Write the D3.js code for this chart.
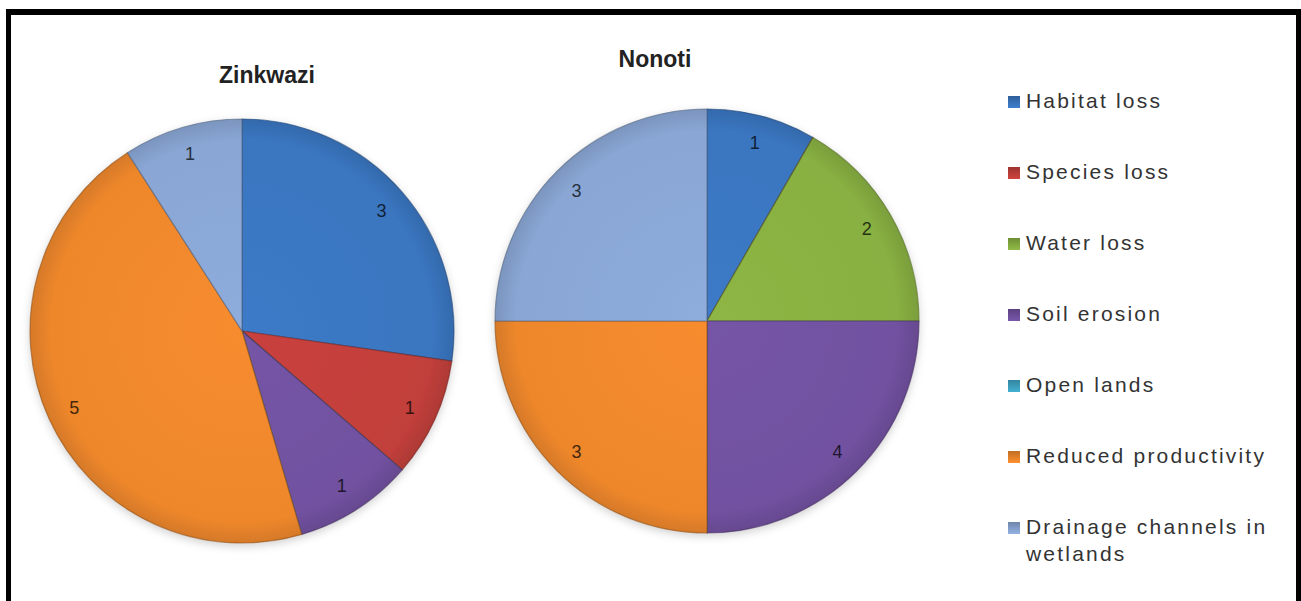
<!DOCTYPE html>
<html>
<head>
<meta charset="utf-8">
<script src="https://cdn.jsdelivr.net/npm/d3@7"></script>
<style>
  html, body { margin: 0; padding: 0; background: #fff; }
  svg { display: block; }
</style>
</head>
<body>
<svg id="chart"></svg>
<script>
// categories (legend order = slice order, clockwise from 12 o'clock)
const categories = [
  'Habitat loss',
  'Species loss',
  'Water loss',
  'Soil erosion',
  'Open lands',
  'Reduced productivity',
  'Drainage channels in wetlands'
];

const zinkwaziValues = [3, 1, 0, 1, 0, 5, 1];
// slice sizes as drawn (quarters) -- the printed label on soil erosion says 4
const nonotiValues = [1, 0, 2, 3, 0, 3, 3];
const nonotiLabels = ['1', '', '2', '4', '', '3', '3'];

const sliceColors = ['#3a76c0', '#c23f3b', '#88b042', '#7151a0', '#3fa5c4', '#ee872c', '#89a6d4'];

const W = 1301, H = 601;
const R = 212;

const svg = d3.select('#chart')
  .attr('width', W)
  .attr('height', H)
  .attr('viewBox', `0 0 ${W} ${H}`);

const defs = svg.append('defs');

// soft shadow under the pies
const shadow = defs.append('filter')
  .attr('id', 'shadow')
  .attr('x', '-10%').attr('y', '-10%')
  .attr('width', '120%').attr('height', '125%');
shadow.append('feDropShadow')
  .attr('dx', 0).attr('dy', 3)
  .attr('stdDeviation', 4)
  .attr('flood-color', '#000')
  .attr('flood-opacity', 0.18);

// one radial gradient per colour: flat centre, darker rim
sliceColors.forEach((c, i) => {
  const g = defs.append('radialGradient')
    .attr('id', 'grad' + i)
    .attr('gradientUnits', 'userSpaceOnUse')
    .attr('cx', 0).attr('cy', 0).attr('r', R);
  g.append('stop').attr('offset', '0%').attr('stop-color', d3.color(c).brighter(0.1));
  g.append('stop').attr('offset', '90%').attr('stop-color', c);
  g.append('stop').attr('offset', '100%').attr('stop-color', d3.color(c).darker(0.3));
});

// legend marker gradients
sliceColors.forEach((c, i) => {
  const g = defs.append('linearGradient')
    .attr('id', 'lg' + i)
    .attr('x1', 0).attr('y1', 0).attr('x2', 0).attr('y2', 1);
  g.append('stop').attr('offset', '0%').attr('stop-color', d3.color(c).darker(0.6));
  g.append('stop').attr('offset', '100%').attr('stop-color', d3.color(c).brighter(0.2));
});

const pie = d3.pie().sort(null).value(d => d);
const arc = d3.arc().innerRadius(0).outerRadius(R);
const labelArc = d3.arc().innerRadius(R * 0.87).outerRadius(R * 0.87);

function drawPie(cx, cy, values, labels) {
  const g = svg.append('g')
    .attr('transform', `translate(${cx},${cy})`);

  const arcs = pie(values);

  const slices = g.append('g').attr('filter', 'url(#shadow)');
  slices.selectAll('path')
    .data(arcs)
    .enter()
    .append('path')
    .attr('d', arc)
    .attr('fill', (d, i) => `url(#grad${i})`)
    .attr('stroke', (d, i) => d3.color(sliceColors[i]).darker(1.4))
    .attr('stroke-opacity', 0.6)
    .attr('stroke-width', 1.2)
    .attr('stroke-linejoin', 'round');

  g.append('g').selectAll('text')
    .data(arcs.filter(d => d.value > 0))
    .enter()
    .append('text')
    .attr('transform', d => `translate(${labelArc.centroid(d)})`)
    .attr('text-anchor', 'middle')
    .attr('dy', '0.35em')
    .attr('font-family', '"Liberation Sans", Arial, sans-serif')
    .attr('font-size', 18)
    .attr('fill', d => d3.color(sliceColors[d.index]).darker(3.5))
    .text(d => labels ? labels[d.index] : d.value);
}

drawPie(242, 331, zinkwaziValues, null);
drawPie(707, 321, nonotiValues, nonotiLabels);

// titles
svg.append('text')
  .attr('x', 267).attr('y', 83)
  .attr('text-anchor', 'middle')
  .attr('font-family', '"Liberation Sans", Arial, sans-serif')
  .attr('font-weight', 'bold')
  .attr('font-size', 23)
  .attr('fill', '#222')
  .text('Zinkwazi');

svg.append('text')
  .attr('x', 655).attr('y', 67)
  .attr('text-anchor', 'middle')
  .attr('font-family', '"Liberation Sans", Arial, sans-serif')
  .attr('font-weight', 'bold')
  .attr('font-size', 23)
  .attr('fill', '#222')
  .text('Nonoti');

// legend
const ly = d3.scalePoint()
  .domain(categories)
  .range([101, 527]);

const item = svg.append('g').selectAll('g')
  .data(categories)
  .enter()
  .append('g')
  .attr('transform', d => `translate(1008,${ly(d)})`);

item.append('rect')
  .attr('x', 0).attr('y', -5)
  .attr('width', 12).attr('height', 12)
  .attr('fill', (d, i) => `url(#lg${i})`);

item.append('text')
  .attr('x', 18)
  .attr('y', 0)
  .attr('dy', '0.35em')
  .attr('font-family', '"Liberation Sans", Arial, sans-serif')
  .attr('font-size', 21)
  .attr('letter-spacing', 2.2)
  .attr('fill', '#333')
  .each(function(d) {
    const t = d3.select(this);
    if (d === 'Drainage channels in wetlands') {
      t.append('tspan').attr('x', 18).text('Drainage channels in');
      t.append('tspan').attr('x', 18).attr('dy', 27).text('wetlands');
    } else {
      t.text(d);
    }
  });

// outer frame (open at the bottom)
const frame = svg.append('g').attr('fill', '#000');
frame.append('rect').attr('x', 6).attr('y', 9).attr('width', W - 6).attr('height', 6);
frame.append('rect').attr('x', 6).attr('y', 9).attr('width', 5).attr('height', H - 9);
frame.append('rect').attr('x', W - 5).attr('y', 9).attr('width', 5).attr('height', H - 9);
</script>
</body>
</html>
